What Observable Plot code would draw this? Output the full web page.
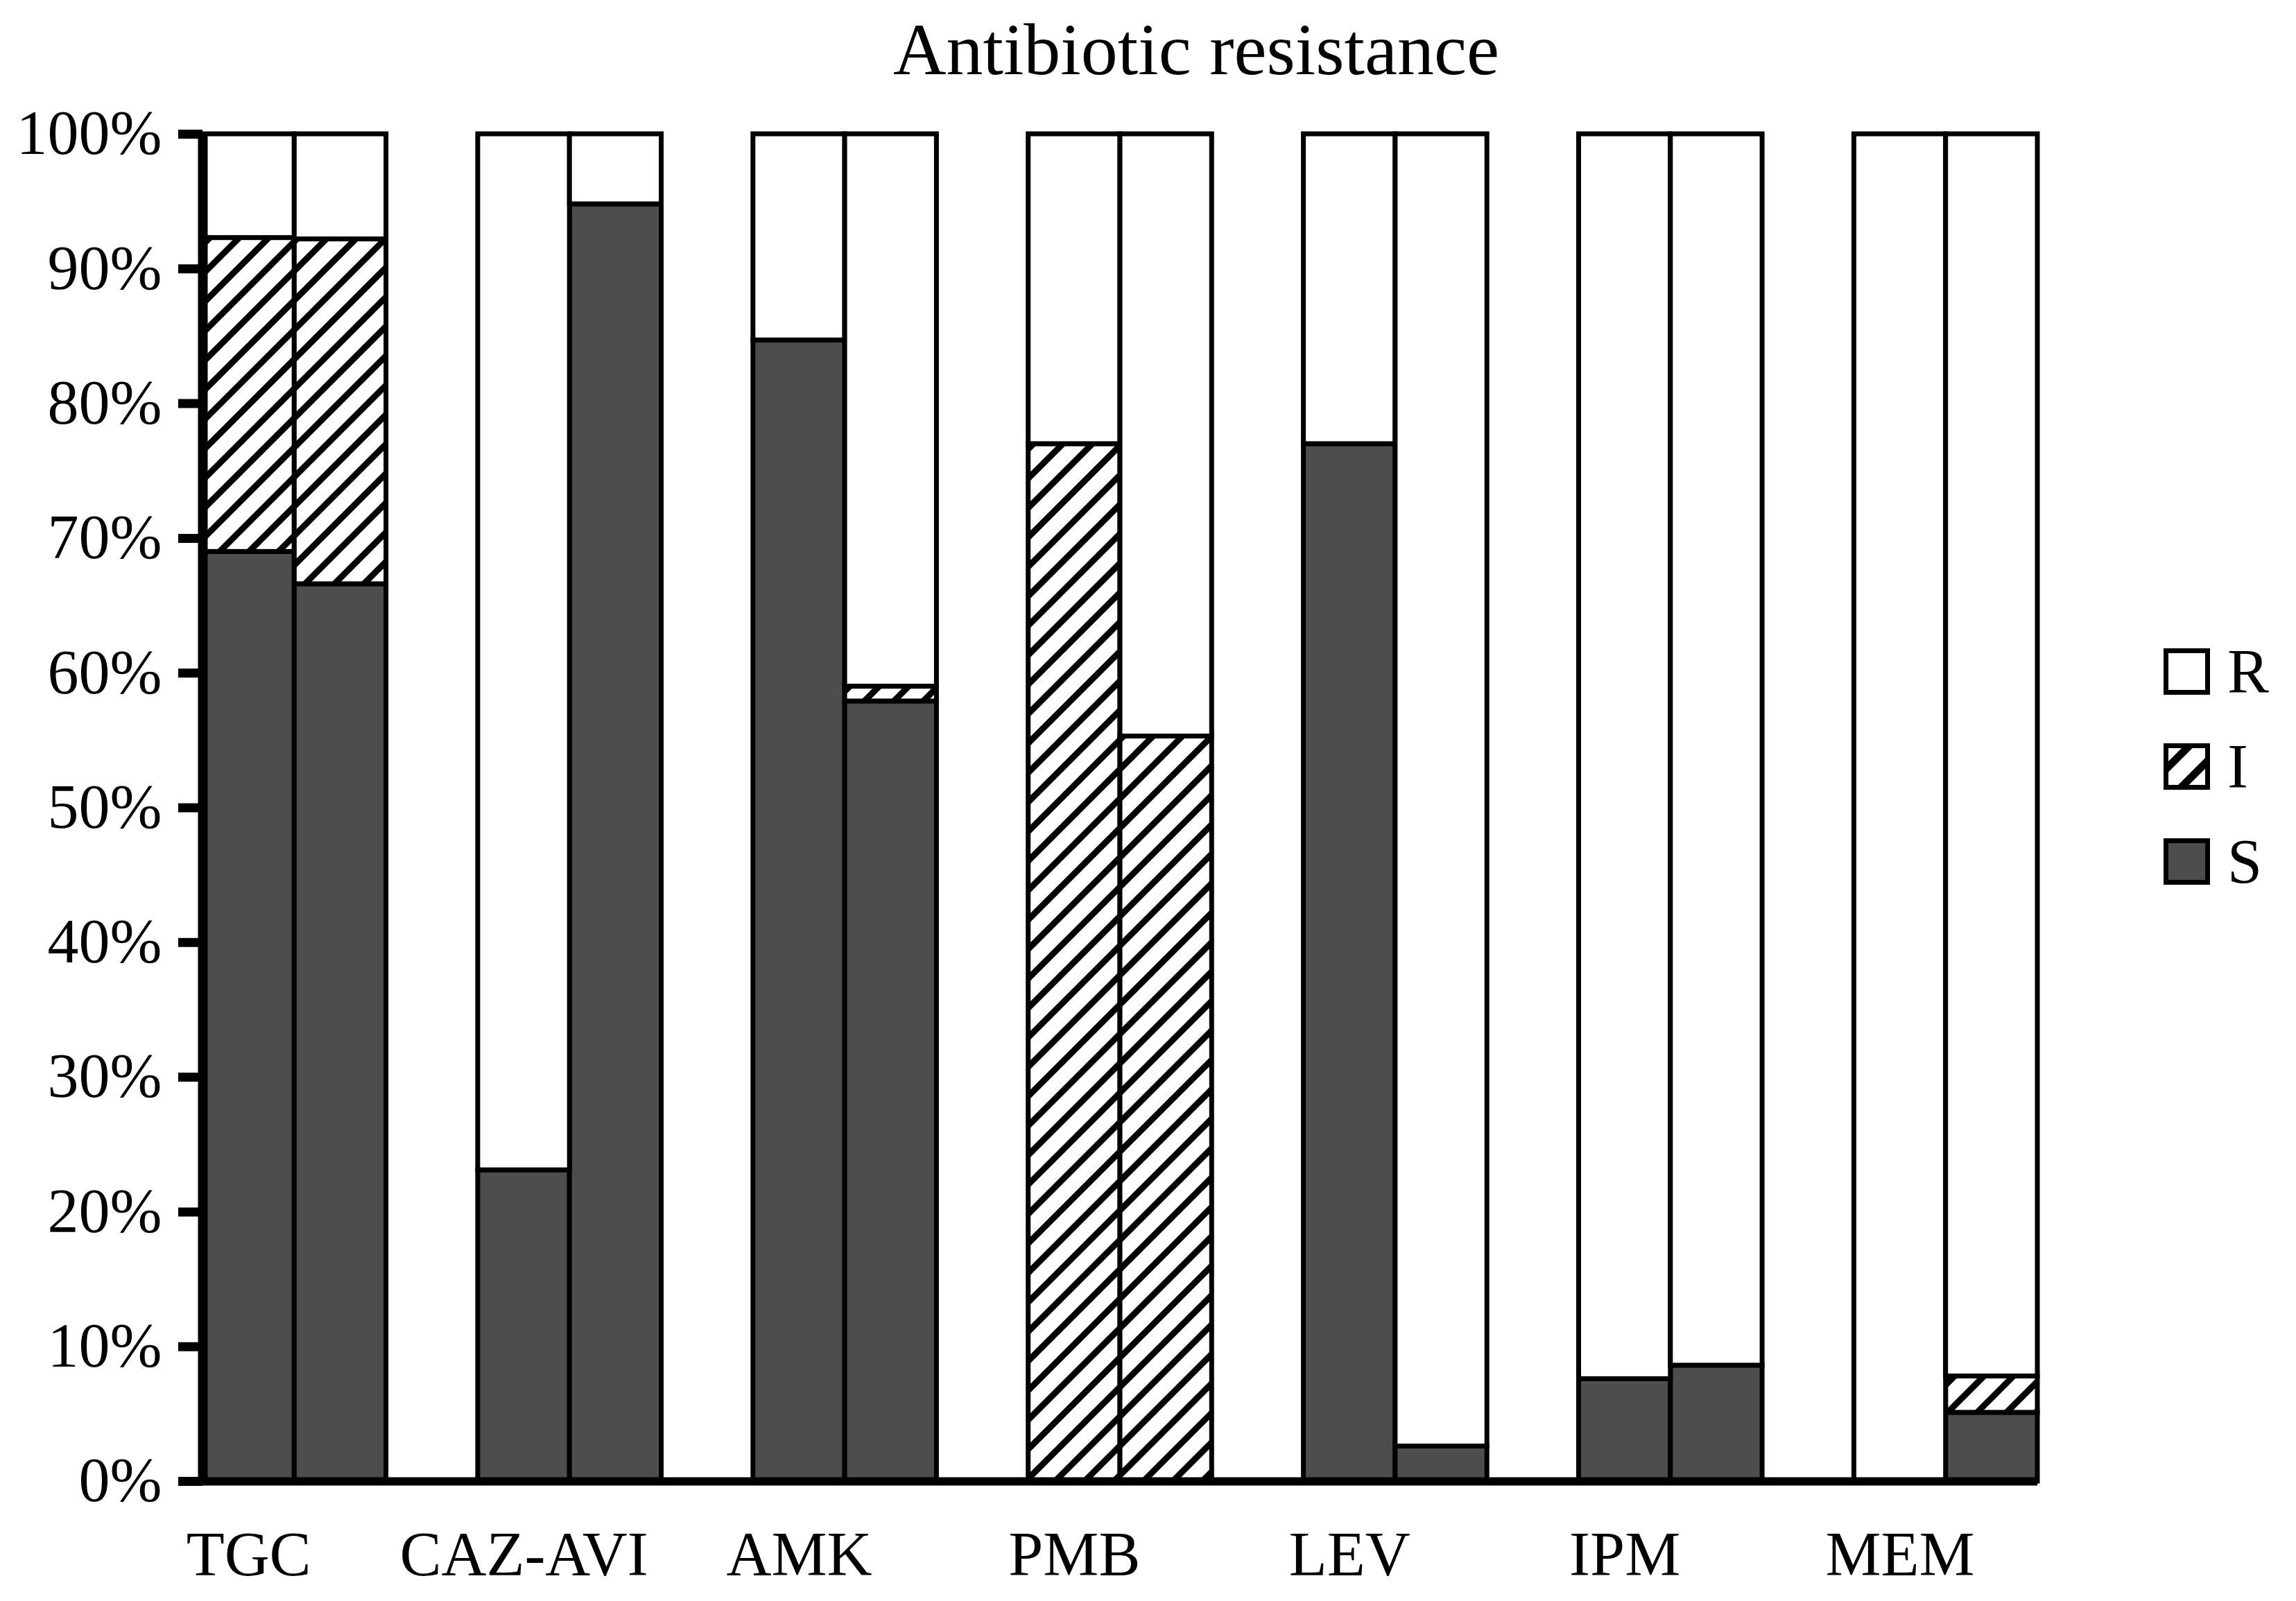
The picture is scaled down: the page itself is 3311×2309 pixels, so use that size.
<!DOCTYPE html>
<html>
<head>
<meta charset="utf-8">
<script src="https://cdn.jsdelivr.net/npm/d3@7"></script>
<script src="https://cdn.jsdelivr.net/npm/@observablehq/plot@0.6"></script>
<style>
  body { margin: 0; background: #fff; }
  #wrap { position: relative; width: 3311px; height: 2309px; font-family: "Liberation Serif", "Times New Roman", serif; color: #000; background: #fff; }
  #title { position: absolute; top: 19px; left: 1725px; transform: translateX(-50%); font-size: 106px; line-height: 1; white-space: nowrap; }
  #chart { position: absolute; top: 130px; left: 0; }
  #legend { position: absolute; left: 3120px; top: 935px; }
  .item { display: flex; align-items: center; height: 67px; margin-bottom: 70px; font-size: 90px; line-height: 1; }
  .item svg { margin-right: 25px; display: block; }
</style>
</head>
<body>
<svg width="0" height="0" style="position:absolute">
  <defs>
    <pattern id="hatch" patternUnits="userSpaceOnUse" width="30" height="30" patternTransform="rotate(45)">
      <rect width="30" height="30" fill="#fff"></rect>
      <rect width="9" height="30" fill="#000"></rect>
    </pattern>
    <pattern id="hatchL" patternUnits="userSpaceOnUse" width="34" height="34" patternTransform="translate(33 0) rotate(45)">
      <rect width="34" height="34" fill="#fff"></rect>
      <rect width="11" height="34" fill="#000"></rect>
    </pattern>
  </defs>
</svg>
<div id="wrap">
  <div id="title">Antibiotic resistance</div>
  <div id="chart"></div>
  <div id="legend"></div>
</div>
<script>
// ---- data ----
const categories = ["TGC", "CAZ-AVI", "AMK", "PMB", "LEV", "IPM", "MEM"];
const statuses = ["S", "I", "R"];
// first bar of each pair
const S1 = [69.0, 23.1, 84.7, 0, 77.0, 7.6, 0];
const I1 = [23.3, 0, 0, 77.0, 0, 0, 0];
const R1 = [7.7, 76.9, 15.3, 23.0, 23.0, 92.4, 100];
// second bar of each pair
const S2 = [66.6, 94.8, 57.9, 0, 2.6, 8.6, 5.1];
const I2 = [25.6, 0, 1.1, 55.3, 0, 0, 2.7];
const R2 = [7.8, 5.2, 41.0, 44.7, 97.4, 91.4, 92.2];
const yTicks = [0, 10, 20, 30, 40, 50, 60, 70, 80, 90, 100];
const legendItems = ["R", "I", "S"];

// ---- build table ----
const series = [[S1, I1, R1], [S2, I2, R2]];
const rows = [];
categories.forEach((c, i) => {
  series.forEach((set, j) => {
    let base = 0;
    statuses.forEach((s, k) => {
      const v = set[k][i];
      if (v > 0) rows.push({category: c, status: s, slot: 3 * i + j, y1: base, y2: base + v});
      base += v;
    });
  });
});
const nSlots = 3 * categories.length - 1;

const fills = {S: "#4d4d4d", I: "url(#hatch)", R: "#ffffff"};
const barMark = s => Plot.rectY(rows.filter(d => d.status === s), {
  x1: "slot", x2: d => d.slot + 1, y1: "y1", y2: "y2",
  fill: fills[s], stroke: "#000", strokeWidth: 7
});

const chart = Plot.plot({
  width: 3311,
  height: 2179,
  marginTop: 63,
  marginBottom: 173,
  marginLeft: 292,
  marginRight: 373,
  style: {fontFamily: "Liberation Serif, Times New Roman, serif", color: "#000", background: "#fff"},
  x: {type: "linear", domain: [0, nSlots]},
  y: {domain: [0, 100]},
  marks: [
    barMark("S"),
    barMark("I"),
    barMark("R"),
    Plot.ruleY([0], {stroke: "#000", strokeWidth: 12}),
    Plot.ruleX([0], {stroke: "#000", strokeWidth: 14}),
    Plot.axisY({
      ticks: yTicks, tickFormat: d => d + "%", tickSize: 35, tickPadding: 24,
      strokeWidth: 13, fontSize: 90, label: null
    }),
    Plot.axisX({
      ticks: categories.map((c, i) => 3 * i + 0.5),
      tickFormat: d => categories[Math.round((d - 0.5) / 3)],
      tickSize: 0, tickPadding: 72, fontSize: 90, label: null
    })
  ]
});
document.getElementById("chart").appendChild(chart);

// ---- legend ----
const legendFill = {R: "#ffffff", I: "url(#hatchL)", S: "#4d4d4d"};
const legend = document.getElementById("legend");
legendItems.forEach(s => {
  const item = document.createElement("div");
  item.className = "item";
  item.innerHTML = `<svg width="67" height="67"><rect x="3.5" y="3.5" width="60" height="60" fill="${legendFill[s]}" stroke="#000" stroke-width="7"></rect></svg><span>${s}</span>`;
  legend.appendChild(item);
});
</script>
</body>
</html>
